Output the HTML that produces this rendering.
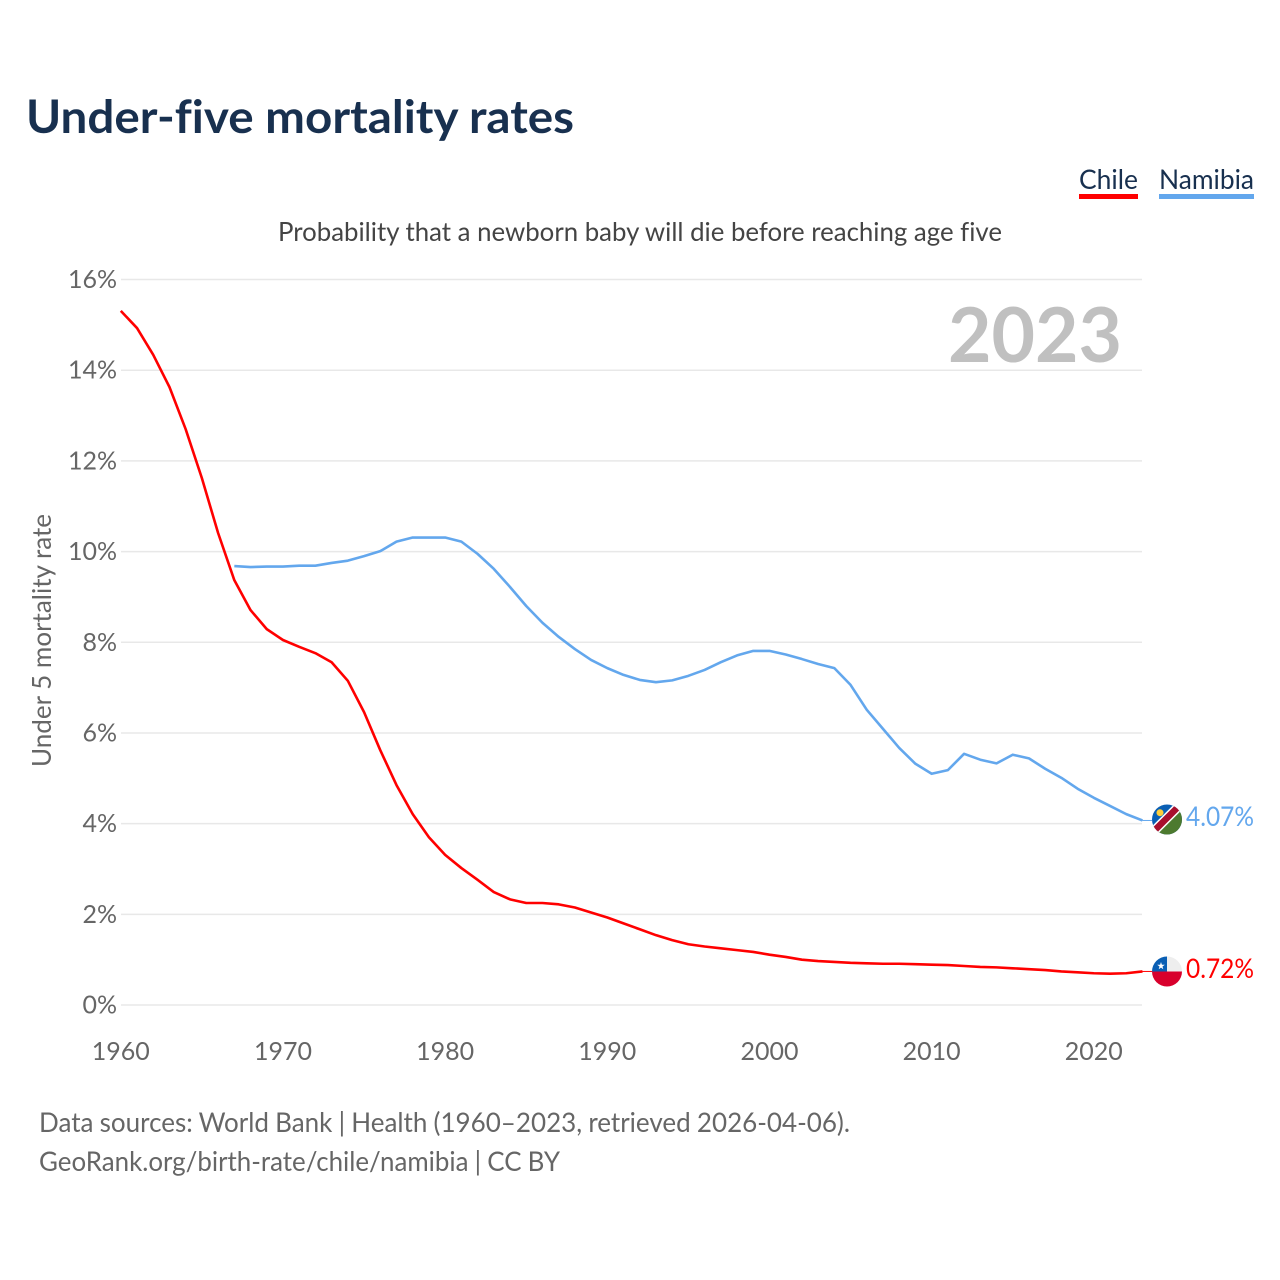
<!DOCTYPE html>
<html lang="en">
<head>
<meta charset="utf-8">
<title>Under-five mortality rates</title>
<style>
html,body{margin:0;padding:0;background:#fff;width:1280px;height:1280px;overflow:hidden}
svg{display:block}
text{font-family:"Lato","Carlito","Liberation Sans",sans-serif;font-variant-ligatures:none}
</style>
</head>
<body>
<svg id="chart" xmlns="http://www.w3.org/2000/svg" width="1280" height="1280" viewBox="0 0 1280 1280">
  <defs>
    <clipPath id="flag-clip-na"><circle cx="1167" cy="819.5" r="15"/></clipPath>
    <clipPath id="flag-clip-cl"><circle cx="1167" cy="971.5" r="15"/></clipPath>
  </defs>
  <text x="26" y="133" font-size="46" font-weight="700" fill="#18304f" textLength="548" lengthAdjust="spacingAndGlyphs">Under-five mortality rates</text>
  <g>
    <text x="1079" y="189" font-size="27" fill="#18304f" textLength="59" lengthAdjust="spacingAndGlyphs">Chile</text>
    <rect x="1079" y="194" width="59" height="5" fill="#ff0000"/>
  </g>
  <g>
    <text x="1159" y="189" font-size="27" fill="#18304f" textLength="95" lengthAdjust="spacingAndGlyphs">Namibia</text>
    <rect x="1159" y="194" width="95" height="5" fill="#63a7ed"/>
  </g>
  <text x="278" y="241" font-size="26" fill="#444" textLength="724" lengthAdjust="spacingAndGlyphs">Probability that a newborn baby will die before reaching age five</text>
  <g id="grid"></g>
  <g id="yticks"></g>
  <g id="xticks"></g>
  <text x="948" y="362" font-size="76" font-weight="700" fill="#c0c0c0" textLength="174" lengthAdjust="spacingAndGlyphs">2023</text>
  <text transform="translate(51,767) rotate(-90)" font-size="26" fill="#666" textLength="253" lengthAdjust="spacingAndGlyphs">Under 5 mortality rate</text>
  <g id="series"></g>
  <g id="namibia-flag">
    <g clip-path="url(#flag-clip-na)">
      <rect x="1152" y="804" width="30" height="31" fill="#0a5fb4"/>
      <polygon points="1147,839 1187,799 1187,839" fill="#4d7a2f"/>
      <line x1="1146" y1="839" x2="1186" y2="799" stroke="#ffffff" stroke-width="9.5"/>
      <line x1="1146" y1="839" x2="1186" y2="799" stroke="#a80f2e" stroke-width="6.5"/>
      <circle cx="1160" cy="812.7" r="3.5" fill="#ffce3a"/>
    </g>
  </g>
  <g id="chile-flag">
    <g clip-path="url(#flag-clip-cl)">
      <rect x="1152" y="956" width="30" height="16" fill="#eeeeee"/>
      <rect x="1152" y="956" width="15" height="16" fill="#0a5fb4"/>
      <rect x="1152" y="971.5" width="30" height="17" fill="#d8002c"/>
      <polygon points="1161,962 1161.9,964.8 1164.8,964.8 1162.5,966.5 1163.3,969.2 1161,967.6 1158.7,969.2 1159.5,966.5 1157.2,964.8 1160.1,964.8" fill="#ffffff"/>
    </g>
  </g>
  <text x="1186" y="826" font-size="27" fill="#63a7ed" textLength="68" lengthAdjust="spacingAndGlyphs">4.07%</text>
  <text x="1186" y="978" font-size="27" fill="#ff0000" textLength="68" lengthAdjust="spacingAndGlyphs">0.72%</text>
  <text x="39" y="1132" font-size="27" fill="#666" word-spacing="-0.5" textLength="811" lengthAdjust="spacingAndGlyphs">Data sources: World Bank | Health (1960–2023, retrieved 2026-04-06).</text>
  <text x="39" y="1171" font-size="27" fill="#666" word-spacing="-0.5" textLength="521" lengthAdjust="spacingAndGlyphs">GeoRank.org/birth-rate/chile/namibia | CC BY</text>
</svg>
<script>
const yTicks = [0, 2, 4, 6, 8, 10, 12, 14, 16];
const xTicks = [1960, 1970, 1980, 1990, 2000, 2010, 2020];
const chileStartYear = 1960;
const chileValues = [15.31,14.93,14.34,13.63,12.70,11.62,10.41,9.37,8.71,8.29,8.05,7.90,7.76,7.56,7.15,6.46,5.62,4.85,4.21,3.70,3.31,3.02,2.76,2.49,2.33,2.25,2.25,2.22,2.15,2.04,1.93,1.80,1.67,1.54,1.43,1.34,1.29,1.25,1.21,1.17,1.11,1.06,1.00,0.97,0.95,0.93,0.92,0.91,0.91,0.90,0.89,0.88,0.86,0.84,0.83,0.81,0.79,0.77,0.74,0.72,0.70,0.69,0.70,0.74];
const namibiaStartYear = 1967;
const namibiaValues = [9.68,9.66,9.67,9.67,9.69,9.69,9.75,9.80,9.90,10.01,10.22,10.31,10.31,10.31,10.22,9.95,9.62,9.22,8.80,8.43,8.12,7.85,7.61,7.43,7.28,7.17,7.12,7.16,7.26,7.39,7.56,7.71,7.81,7.81,7.73,7.63,7.52,7.43,7.06,6.51,6.09,5.67,5.32,5.10,5.18,5.54,5.41,5.33,5.52,5.44,5.21,5.01,4.77,4.57,4.39,4.21,4.07];

const NS = 'http://www.w3.org/2000/svg';
const xScale = year => 120.8 + (year - 1960) * 16.217;
const yScale = value => 1005 - value * 45.34;

function make(tag, attrs, parent, content) {
  const el = document.createElementNS(NS, tag);
  Object.keys(attrs).forEach(k => el.setAttribute(k, attrs[k]));
  if (content !== undefined) el.textContent = content;
  parent.appendChild(el);
  return el;
}

const grid = document.getElementById('grid');
const yGroup = document.getElementById('yticks');
const xGroup = document.getElementById('xticks');
const seriesGroup = document.getElementById('series');

yTicks.forEach(v => {
  const line = make('line', {x1: 121, x2: 1142, y1: yScale(v), y2: yScale(v), stroke: '#e8e8e8', 'stroke-width': 1.5}, grid);
  
  
  const label = v + '%';
  const t = make('text', {x: 117, y: yScale(v) + 8.5, 'text-anchor': 'end', 'font-size': 25, fill: '#666'}, yGroup, label);
  
  
});

xTicks.forEach(y => {
  const t = make('text', {x: xScale(y), y: 1060, 'text-anchor': 'middle', 'font-size': 25, fill: '#666'}, xGroup, String(y));
  
  
});

function drawSeries(values, startYear, color, name) {
  const pts = values.map((v, i) => xScale(startYear + i).toFixed(2) + ',' + yScale(v).toFixed(2));
  const p = make('polyline', {points: pts.join(' '), fill: 'none', stroke: color, 'stroke-width': 2.6, 'stroke-linejoin': 'round'}, seriesGroup);
  
  
  const last = values[values.length - 1];
  const lastX = xScale(startYear + values.length - 1);
  const c = make('line', {x1: lastX, x2: 1152, y1: yScale(last), y2: yScale(last), stroke: color, 'stroke-width': 1}, seriesGroup);
  
  
}

drawSeries(chileValues, chileStartYear, '#ff0000', 'chile-line');
drawSeries(namibiaValues, namibiaStartYear, '#63a7ed', 'namibia-line');
</script>
</body>
</html>
